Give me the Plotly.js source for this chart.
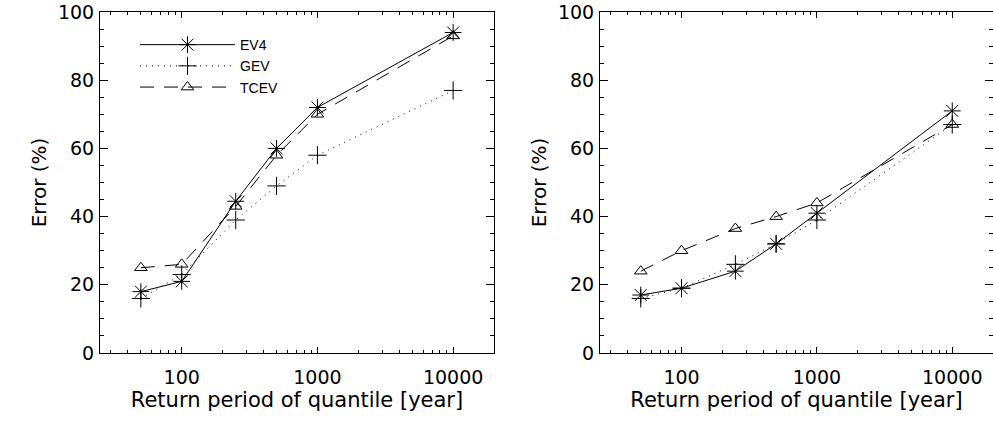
<!DOCTYPE html>
<html>
<head>
<meta charset="utf-8">
<script src="https://cdn.plot.ly/plotly-3.0.1.min.js"></script>
<style>html,body{margin:0;padding:0;background:#fff;}#chart{width:993px;height:422px;}</style>
</head>
<body>
<div id="chart"></div>
<script>
// Return periods (years)
var returnPeriods = [50, 100, 250, 500, 1000, 10000];

// Left panel errors (%)
var leftEV4  = [18, 21, 44.5, 60, 72, 94];
var leftGEV  = [16, 23, 39, 49, 58, 77];
var leftTCEV = [25, 26, 43, 58, 70, 93];

// Right panel errors (%)
var rightEV4  = [17, 19, 24, 32, 41, 71];
var rightGEV  = [16, 19, 26, 32, 39, 67];
var rightTCEV = [24, 30, 36.5, 40, 44, 67];

// Tick labels
var xTickVals = [100, 1000, 10000];
var xTickText = ['100', '1000', '10000'];
var yTickVals = [0, 20, 40, 60, 80, 100];
var yTickText = ['0', '20', '40', '60', '80', '100'];

var styles = {
  EV4:  {dash: 'solid', symbol: 'asterisk-open', size: 14},
  GEV:  {dash: '1px,5px', symbol: 'cross-thin-open', size: 13},
  TCEV: {dash: '14px,10px', symbol: 'triangle-up-open', size: 11}
};

function mk(name, y, xa, ya, showleg) {
  var s = styles[name];
  return {
    x: returnPeriods, y: y, name: name, type: 'scatter', mode: 'lines+markers',
    xaxis: xa, yaxis: ya, showlegend: showleg,
    line: {color: '#000', width: 1, dash: s.dash},
    marker: {symbol: s.symbol, size: s.size, color: '#000', line: {color: '#000', width: 1}}
  };
}

var data = [
  mk('EV4', leftEV4, 'x', 'y', true),
  mk('GEV', leftGEV, 'x', 'y', true),
  mk('TCEV', leftTCEV, 'x', 'y', true),
  mk('EV4', rightEV4, 'x2', 'y2', false),
  mk('GEV', rightGEV, 'x2', 'y2', false),
  mk('TCEV', rightTCEV, 'x2', 'y2', false)
];

var tickFont = {family: 'DejaVu Sans', size: 19, color: '#000'};
var xTitleFont = {family: 'DejaVu Sans', size: 21, color: '#000'};
var yTitleFont = {family: 'DejaVu Sans', size: 20, color: '#000'};

function xax(domain) {
  return {
    domain: domain, type: 'log', range: [Math.log10(25), Math.log10(20000)],
    tickmode: 'array', tickvals: xTickVals, ticktext: xTickText,
    ticks: 'inside', ticklen: 6, tickwidth: 1, tickcolor: '#000',
    minor: {ticks: 'inside', ticklen: 3, tickwidth: 1, tickcolor: '#000', dtick: 'D1', showgrid: false},
    showline: true, linecolor: '#000', linewidth: 1, mirror: 'allticks',
    showgrid: false, zeroline: false, tickfont: tickFont, ticklabelstandoff: 7,
    title: {text: 'Return period of quantile [year]', font: xTitleFont, standoff: 5}
  };
}
function yax(anchor) {
  return {
    anchor: anchor, domain: [0, 1], range: [0, 100],
    tickmode: 'array', tickvals: yTickVals, ticktext: yTickText,
    ticks: 'inside', ticklen: 8, tickwidth: 1, tickcolor: '#000',
    minor: {ticks: 'inside', ticklen: 4, tickwidth: 1, tickcolor: '#000', dtick: 5, showgrid: false},
    showline: true, linecolor: '#000', linewidth: 1, mirror: 'allticks',
    showgrid: false, zeroline: false, tickfont: tickFont, ticklabelstandoff: 1,
    title: {text: 'Error (%)', font: yTitleFont, standoff: 5}
  };
}

var xa1 = xax([100/993, 494/993]); xa1.anchor = 'y';
var xa2 = xax([600/993, 1]); xa2.anchor = 'y2';

var layout = {
  width: 993, height: 422,
  margin: {l: 0, r: 0, t: 12, b: 69},
  paper_bgcolor: '#fff', plot_bgcolor: '#fff',
  showlegend: true,
  xaxis: xa1, xaxis2: xa2,
  yaxis: yax('x'), yaxis2: yax('x2'),
  legend: {
    x: 135/993, xanchor: 'left', y: 0.95, yanchor: 'top',
    bgcolor: 'rgba(0,0,0,0)', borderwidth: 0,
    font: {family: 'Liberation Sans', size: 14, color: '#000'},
    itemwidth: 95, tracegroupgap: 0
  }
};

Plotly.newPlot('chart', data, layout, {staticPlot: true});
</script>
</body>
</html>
